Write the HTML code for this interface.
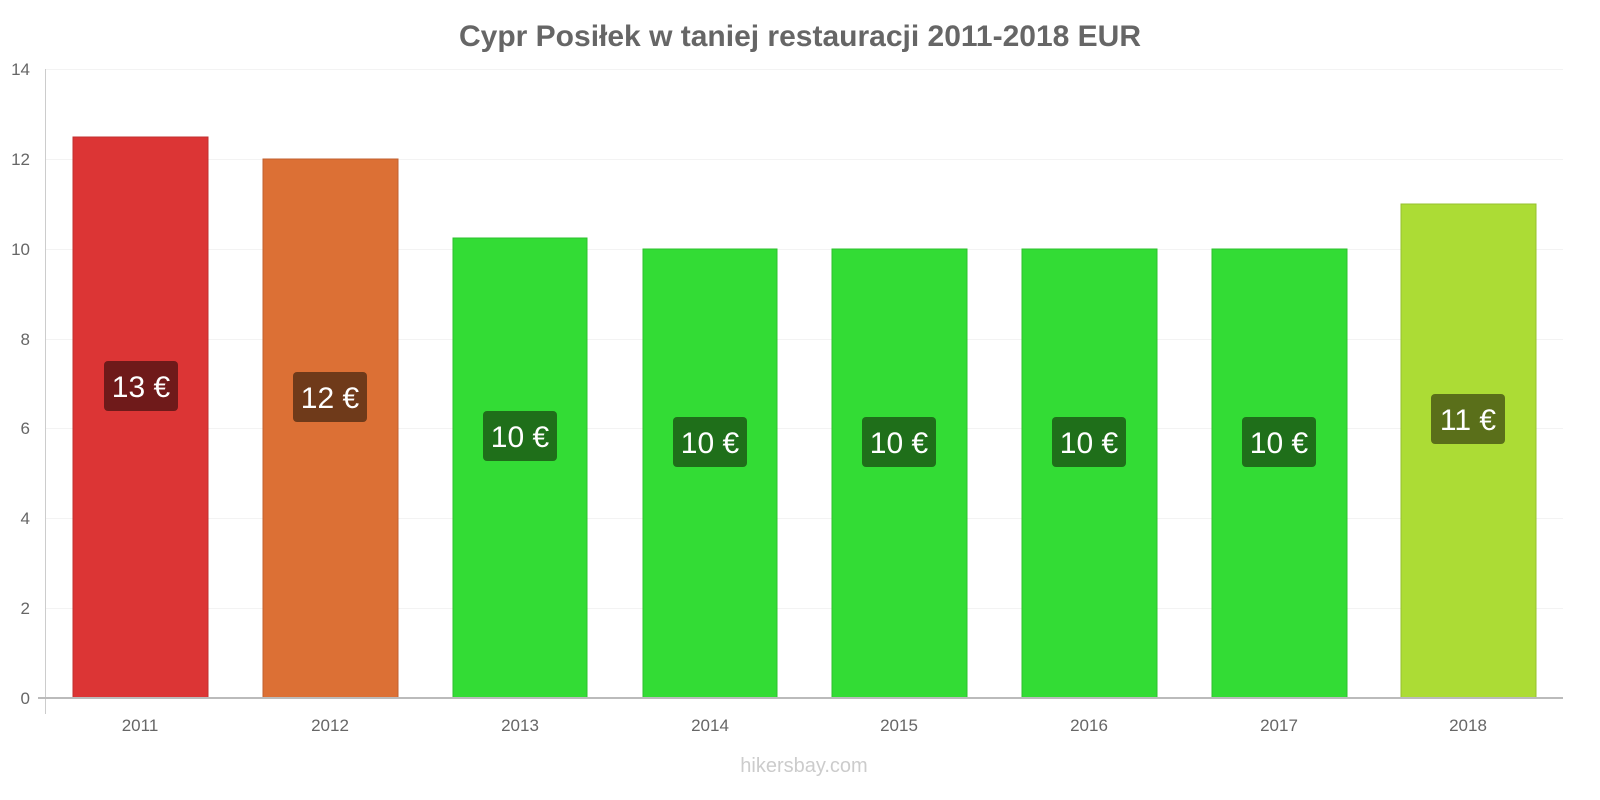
<!DOCTYPE html>
<html><head><meta charset="utf-8"><style>
html,body{margin:0;padding:0;background:#fff;width:1600px;height:800px;overflow:hidden}
text{font-family:"Liberation Sans",sans-serif}
</style></head><body>
<svg width="1600" height="800" xmlns="http://www.w3.org/2000/svg">
<text x="800" y="46" text-anchor="middle" font-size="30" font-weight="bold" fill="#666">Cypr Posiłek w taniej restauracji 2011-2018 EUR</text>
<g stroke="#f3f3f3" stroke-width="1">
<line x1="46" x2="1563" y1="69.5" y2="69.5"/><line x1="46" x2="1563" y1="159.5" y2="159.5"/><line x1="46" x2="1563" y1="249.5" y2="249.5"/><line x1="46" x2="1563" y1="339.5" y2="339.5"/><line x1="46" x2="1563" y1="428.5" y2="428.5"/><line x1="46" x2="1563" y1="518.5" y2="518.5"/><line x1="46" x2="1563" y1="608.5" y2="608.5"/>
</g>
<g font-size="17" fill="#666" text-anchor="end">
<text x="30" y="75">14</text><text x="30" y="165">12</text><text x="30" y="255">10</text><text x="30" y="345">8</text><text x="30" y="434">6</text><text x="30" y="524">4</text><text x="30" y="614">2</text><text x="30" y="704">0</text>
</g>
<rect x="73" y="137" width="135" height="561" fill="#dc3535" stroke="#c23030"/>
<rect x="263" y="159" width="135" height="539" fill="#dc7035" stroke="#c06030"/>
<rect x="453" y="238" width="134" height="460" fill="#33dc35" stroke="#2cc02e"/>
<rect x="643" y="249" width="134" height="449" fill="#33dc35" stroke="#2cc02e"/>
<rect x="832" y="249" width="135" height="449" fill="#33dc35" stroke="#2cc02e"/>
<rect x="1022" y="249" width="135" height="449" fill="#33dc35" stroke="#2cc02e"/>
<rect x="1212" y="249" width="135" height="449" fill="#33dc35" stroke="#2cc02e"/>
<rect x="1401" y="204" width="135" height="494" fill="#acdc35" stroke="#96c02e"/>
<line x1="45.5" x2="45.5" y1="69" y2="714" stroke="#ccc"/>
<line x1="38" x2="1563" y1="698" y2="698" stroke="#bbb" stroke-width="2"/>
<g font-size="30" fill="#fff" text-anchor="middle">
<rect x="104" y="361" width="74" height="50" rx="4" fill="#6f1a1a"/><text x="141" y="397">13 €</text>
<rect x="293" y="372" width="74" height="50" rx="4" fill="#6f3a1a"/><text x="330" y="408">12 €</text>
<rect x="483" y="411" width="74" height="50" rx="4" fill="#1f6f1a"/><text x="520" y="447">10 €</text>
<rect x="673" y="417" width="74" height="50" rx="4" fill="#1f6f1a"/><text x="710" y="453">10 €</text>
<rect x="862" y="417" width="74" height="50" rx="4" fill="#1f6f1a"/><text x="899" y="453">10 €</text>
<rect x="1052" y="417" width="74" height="50" rx="4" fill="#1f6f1a"/><text x="1089" y="453">10 €</text>
<rect x="1242" y="417" width="74" height="50" rx="4" fill="#1f6f1a"/><text x="1279" y="453">10 €</text>
<rect x="1431" y="394" width="74" height="50" rx="4" fill="#5a6f1a"/><text x="1468" y="430">11 €</text>
</g>
<g font-size="17" fill="#666" text-anchor="middle">
<text x="140" y="731">2011</text><text x="330" y="731">2012</text><text x="520" y="731">2013</text><text x="710" y="731">2014</text><text x="899" y="731">2015</text><text x="1089" y="731">2016</text><text x="1279" y="731">2017</text><text x="1468" y="731">2018</text>
</g>
<text x="804" y="772" text-anchor="middle" font-size="20" fill="#ccc">hikersbay.com</text>
</svg>
</body></html>
